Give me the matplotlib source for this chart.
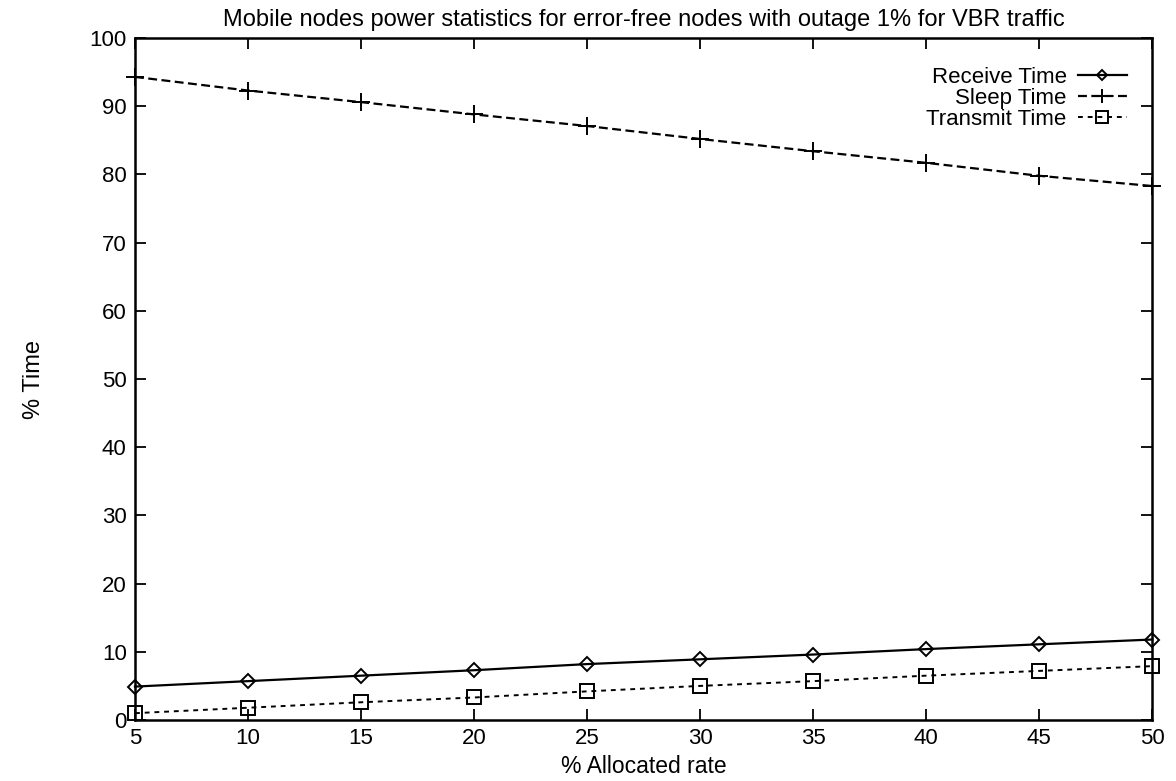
import matplotlib
matplotlib.use("Agg")
from matplotlib import pyplot as plt

plt.rcParams['font.family'] = ['Liberation Sans', 'DejaVu Sans']

rate = [5, 10, 15, 20, 25, 30, 35, 40, 45, 50]
receive = [4.9, 5.7, 6.5, 7.3, 8.2, 8.9, 9.6, 10.4, 11.1, 11.8]
sleep = [94.3, 92.3, 90.6, 88.8, 87.1, 85.2, 83.4, 81.7, 79.8, 78.3]
transmit = [1.0, 1.8, 2.6, 3.3, 4.2, 5.0, 5.7, 6.5, 7.2, 7.9]

fig = plt.figure(figsize=(11.76, 7.81), dpi=100)
ax = fig.add_axes([0.1148, 0.0781, 0.865, 0.8732])

ax.plot(rate, receive, color='black', lw=1.6, marker='D', ms=7,
        mfc='none', mew=1.4, label='Receive Time', clip_on=False)
ax.plot(rate, sleep, color='black', lw=1.6, ls=(0, (4, 2)), marker='+',
        ms=13, mew=1.4, label='Sleep Time', clip_on=False)
ax.plot(rate, transmit, color='black', lw=1.4, ls=(0, (2.5, 2.5)), marker='s',
        ms=10, mfc='none', mew=1.4, label='Transmit Time', clip_on=False)

ax.set_xlim(5, 50)
ax.set_ylim(0, 100)
ax.set_xticks(range(5, 51, 5))
ax.set_yticks(range(0, 101, 10))
ax.tick_params(direction='in', length=8, width=1.3, top=True, right=True,
               labelsize=16, pad=6)
for s in ax.spines.values():
    s.set_linewidth(1.8)

ax.set_title('Mobile nodes power statistics for error-free nodes with outage 1% for VBR traffic',
             fontsize=17, pad=9)
ax.set_xlabel('% Allocated rate', fontsize=16.5, labelpad=4)
ax.set_ylabel('% Time', fontsize=17, labelpad=32)

leg = ax.legend(loc='upper right', bbox_to_anchor=(0.99, 0.98), frameon=False,
                markerfirst=False, fontsize=16, handlelength=2.2, handletextpad=0.5,
                labelspacing=0.0, borderpad=0.2, markerscale=0.8)

fig.savefig('out.png', dpi=100)
